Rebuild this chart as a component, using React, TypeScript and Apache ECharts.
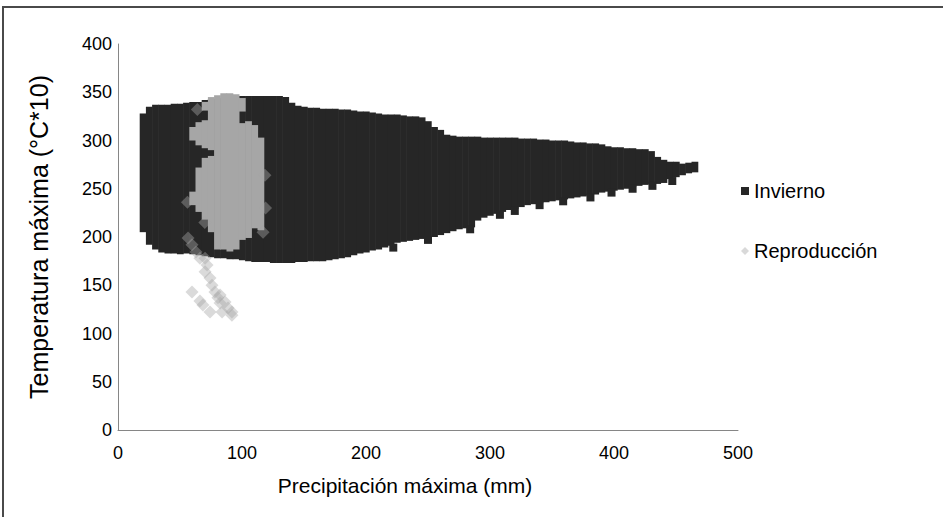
import React, { useEffect, useRef } from "react";
import * as echarts from "echarts";

// Invierno: dense cloud, described as vertical extents per precipitation step (mm)
const inviernoX = [20, 25, 30, 35, 40, 45, 50, 55, 60, 65, 70, 75, 80, 85, 90, 95, 100, 105, 110, 115, 120, 125, 130, 135, 140, 145, 150, 155, 160, 165, 170, 175, 180, 185, 190, 195, 200, 205, 210, 215, 220, 225, 230, 235, 240, 245, 250, 255, 260, 265, 270, 275, 280, 285, 290, 295, 300, 305, 310, 315, 320, 325, 330, 335, 340, 345, 350, 355, 360, 365, 370, 375, 380, 385, 390, 395, 400, 405, 410, 415, 420, 425, 430, 435, 440, 445, 450, 455, 460, 465];
const inviernoLow = [205, 192, 187, 184, 183, 183, 182, 183, 182, 181, 180, 179, 178, 178, 177, 177, 176, 175, 174, 174, 174, 173, 173, 173, 173, 174, 174, 175, 175, 175, 176, 177, 178, 179, 181, 183, 184, 186, 187, 189, 191, 194, 195, 196, 197, 198, 199, 200, 202, 204, 206, 208, 209, 210, 217, 220, 222, 224, 226, 228, 229, 231, 233, 234, 235, 236, 237, 238, 239, 240, 241, 242, 243, 244, 246, 247, 248, 249, 250, 252, 253, 254, 255, 255, 256, 260, 262, 264, 266, 267];
const inviernoHigh = [328, 335, 337, 337, 337, 338, 338, 339, 340, 340, 342, 343, 343, 344, 344, 344, 346, 346, 346, 346, 346, 346, 346, 345, 339, 336, 335, 334, 334, 333, 333, 333, 332, 332, 331, 330, 330, 329, 328, 327, 327, 327, 326, 325, 325, 324, 320, 314, 311, 306, 305, 304, 304, 304, 304, 303, 303, 303, 303, 303, 303, 302, 302, 302, 301, 301, 300, 300, 300, 299, 298, 298, 297, 297, 296, 294, 293, 293, 292, 292, 291, 291, 289, 283, 280, 278, 278, 276, 277, 278];
// Invierno: isolated points along the ragged lower edge
const inviernoOutX = [284, 308, 320, 340, 359, 381, 398, 415, 431, 447, 250, 222];
const inviernoOutY = [208, 223, 227, 233, 237, 241, 246, 250, 253, 258, 197, 189];

// Reproducción: dense core (extents per step) and scattered points
const reproCoreX = [60, 60, 65, 65, 70, 70, 70, 75, 75, 80, 85, 90, 95, 100, 100, 105, 110, 115];
const reproCoreLow = [300, 233, 295, 226, 331, 292, 218, 290, 205, 187, 187, 185, 187, 330, 197, 199, 209, 207];
const reproCoreHigh = [314, 247, 319, 272, 340, 321, 282, 345, 284, 347, 349, 349, 348, 344, 318, 320, 316, 303];
const reproX = [56.5, 59.7, 62.9, 66.1, 70.2, 71.8, 70.2, 74.2, 75.8, 78.2, 80.6, 82.3, 59.7, 66.1, 68.5, 82.3, 86.3, 88.7, 83.9, 91.9, 74.2, 91.9, 64, 56, 70, 117, 118.5, 119];
const reproY = [199, 192, 184.5, 178, 178, 171, 164, 157.5, 150, 143, 137, 131.6, 143, 133.7, 129.5, 140, 132.6, 126.4, 122.3, 122.3, 122.3, 119, 332, 236, 215, 205, 264, 230];

const xTicks = [0, 100, 200, 300, 400, 500];
const yTicks = [0, 50, 100, 150, 200, 250, 300, 350, 400];

const STEP = 5;
const FONT = "'Liberation Sans', Arial, sans-serif";

export default function App() {
  const ref = useRef<HTMLDivElement>(null);
  useEffect(() => {
    if (!ref.current) return;
    const chart = echarts.init(ref.current, null, { renderer: "svg" });
    const columns = (color: string) => (params: any, api: any) => {
      const x = api.value(0);
      const lo = api.value(1);
      const hi = api.value(2);
      const p1 = api.coord([x - STEP / 2, hi]);
      const p2 = api.coord([x + STEP / 2, lo]);
      return {
        type: "rect",
        shape: { x: p1[0], y: p1[1], width: p2[0] - p1[0] + 0.6, height: p2[1] - p1[1] },
        style: { fill: color },
      };
    };
    const inviernoData = inviernoX.map((x, i) => [x, inviernoLow[i], inviernoHigh[i]]);
    const inviernoOut = inviernoOutX.map((x, i) => [x, inviernoOutY[i]]);
    const coreData = reproCoreX.map((x, i) => [x, reproCoreLow[i], reproCoreHigh[i]]);
    const reproData = reproX.map((x, i) => [x, reproY[i]]);
    chart.setOption({
      animation: false,
      backgroundColor: "#ffffff",
      textStyle: { fontFamily: FONT },
      graphic: [
        {
          type: "rect",
          shape: { x: 3, y: 7, width: 980, height: 560 },
          style: { fill: "none", stroke: "#4a4a4a", lineWidth: 2 },
          silent: true,
        },
      ],
      grid: { left: 118, top: 44, width: 620, height: 386 },
      legend: {
        orient: "vertical",
        left: 736,
        top: 175,
        itemWidth: 8,
        itemHeight: 8,
        itemGap: 38,
        textStyle: { fontSize: 20, color: "#000", fontFamily: FONT, lineHeight: 22 },
        data: [
          { name: "Invierno", icon: "rect", itemStyle: { color: "#262626" } },
          { name: "Reproducción", icon: "diamond", itemStyle: { color: "#d9d9d9" } },
        ],
      },
      xAxis: {
        type: "value",
        min: xTicks[0],
        max: xTicks[xTicks.length - 1],
        interval: 100,
        name: "Precipitación máxima (mm)",
        nameLocation: "middle",
        nameGap: 45,
        nameTextStyle: { fontSize: 21, color: "#000", fontFamily: FONT, padding: [0, 46, 0, 0] },
        axisLine: { show: true, lineStyle: { color: "#868686", width: 1 } },
        axisTick: { show: false },
        splitLine: { show: false },
        axisLabel: { fontSize: 18, color: "#000", margin: 14, fontFamily: FONT },
      },
      yAxis: {
        type: "value",
        min: yTicks[0],
        max: yTicks[yTicks.length - 1],
        interval: 50,
        name: "Temperatura máxima (°C*10)",
        nameLocation: "middle",
        nameRotate: 90,
        nameGap: 67,
        nameTextStyle: { fontSize: 25, color: "#000", fontFamily: FONT },
        axisLine: { show: true, lineStyle: { color: "#868686", width: 1 } },
        axisTick: { show: false },
        splitLine: { show: false },
        axisLabel: { fontSize: 18, color: "#000", margin: 6, fontFamily: FONT },
      },
      series: [
        {
          name: "Invierno",
          type: "custom",
          renderItem: columns("#262626"),
          itemStyle: { color: "#262626" },
          encode: { x: 0, y: [1, 2] },
          data: inviernoData,
          z: 1,
        },
        {
          name: "Invierno",
          type: "scatter",
          symbol: "rect",
          symbolSize: 8,
          itemStyle: { color: "#262626", opacity: 1 },
          data: inviernoOut,
          z: 1,
        },
        {
          name: "Reproducción",
          type: "custom",
          renderItem: columns("#a6a6a6"),
          itemStyle: { color: "#a6a6a6" },
          encode: { x: 0, y: [1, 2] },
          data: coreData,
          z: 2,
        },
        {
          name: "Reproducción",
          type: "scatter",
          symbol: "diamond",
          symbolSize: 13,
          itemStyle: { color: "#a6a6a6", opacity: 0.42 },
          data: reproData,
          z: 3,
        },
      ],
    });
    return () => chart.dispose();
  }, []);
  return (
    <div
      ref={ref}
      style={{ position: "fixed", left: 0, top: 0, width: 943, height: 517 }}
    />
  );
}
